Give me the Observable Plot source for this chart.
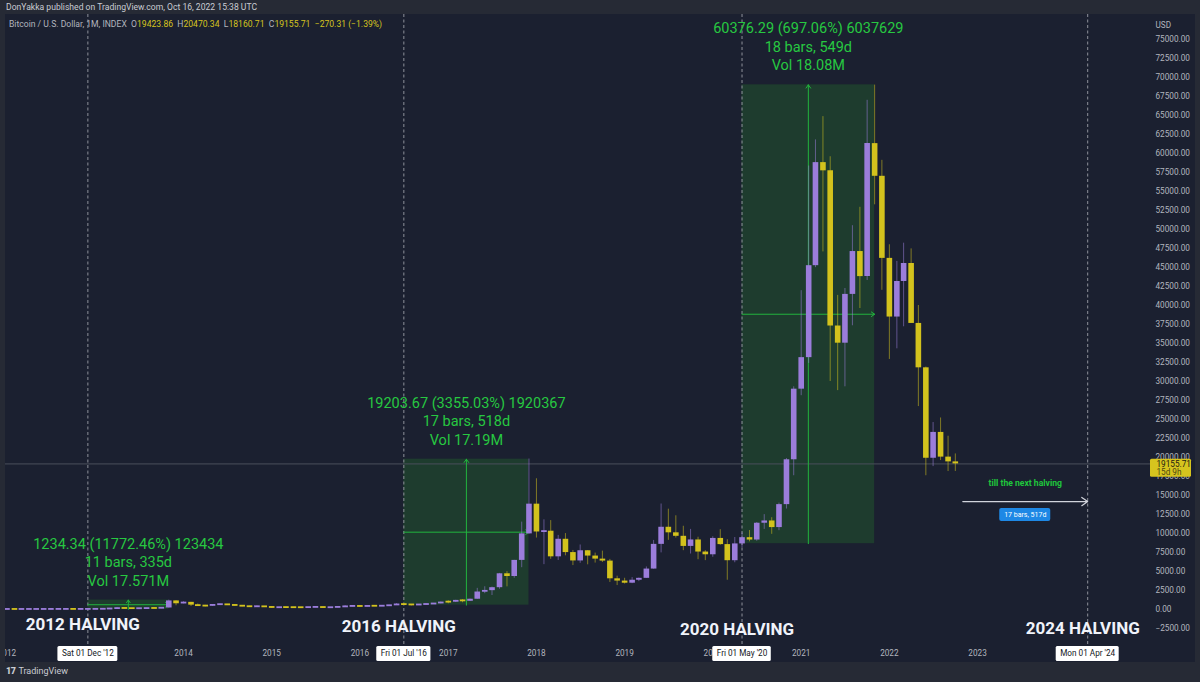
<!DOCTYPE html>
<html><head><meta charset="utf-8">
<script src="https://cdn.jsdelivr.net/npm/d3@7"></script>
<script src="https://cdn.jsdelivr.net/npm/@observablehq/plot@0.6"></script>
<style>
html,body{margin:0;padding:0;background:#262a35;width:1200px;height:682px;overflow:hidden;font-family:Roboto,"Noto Sans",sans-serif;}
#hdr{position:absolute;left:6px;top:2px;font-size:8.6px;color:#c9ccd3;white-space:nowrap;}
#panel{position:absolute;left:5px;top:14px;width:1190px;height:648px;background:#1b2030;overflow:hidden;}
#chart{position:absolute;left:0;top:0;}
#legend{position:absolute;left:4px;top:5px;font-size:8.6px;color:#b2b5be;white-space:nowrap;}
#legend .v{color:#d6c41e;}
#footer{position:absolute;left:6px;top:666px;font-size:9px;color:#c9ccd3;white-space:nowrap;}
#footer b{font-weight:900;letter-spacing:-0.5px;margin-right:3px;}
</style></head>
<body>
<div id="hdr">DonYakka published on TradingView.com, Oct 16, 2022 15:38 UTC</div>
<div id="panel"><div id="chart"></div>
<div id="legend">Bitcoin / U.S. Dollar, 1M, INDEX &nbsp;O<span class="v">19423.86</span> &nbsp;H<span class="v">20470.34</span> &nbsp;L<span class="v">18160.71</span> &nbsp;C<span class="v">19155.71</span> &nbsp;<span class="v">−270.31 (−1.39%)</span></div>
</div>
<div id="footer"><b>17</b>TradingView</div>
<script>
// ---------- DATA ----------
const firstMonth = "2012-01-01"; // monthly candles, one per month from here
const open = [
 5.3,5.5,4.9,4.9,5.0,5.2,6.7,9.3,10.2,12.4,11.2,12.6,
 13.5,20.4,33.4,93,139,129,97,106,135,133,198,1130,
 754,940,570,450,445,630,640,585,480,387,338,378,
 320,217,254,244,236,230,263,284,230,236,314,377,
 430,368,437,416,448,531,673,624,575,609,701,742,
 968,965,1190,1080,1350,2300,2480,2870,4700,4340,6460,9950,
 13860,10200,10300,6930,9240,7490,6390,7730,7030,6630,6370,4040,
 3740,3460,3850,4100,5320,8570,10820,10090,9630,8300,9150,7560,
 7200,9350,8540,6420,8630,9450,9140,11350,11650,10780,13800,19700,
 28990,33140,45240,58800,57720,37300,35040,41460,47100,43800,61300,57000,
 46200,38480,43160,45530,37640,31800,19900,23300,20050,19423.86];
const high = [
 7.4,6.3,5.3,5.4,5.2,6.7,9.3,16.4,12.9,12.6,12.6,13.7,
 20.8,33.4,95,266,140,129,111,139,145,214,1240,1150,
 1020,940,720,550,640,680,660,600,490,420,460,390,
 320,270,299,262,250,268,318,285,247,333,500,467,
 464,445,440,467,548,780,680,627,615,725,755,980,
 1150,1210,1290,1370,2780,2990,2950,4750,4980,6470,11500,19800,
 17200,11800,11700,9750,9990,7770,8490,7750,7420,7680,6590,4380,
 4110,4200,4140,5600,9090,13880,13200,12330,10950,10540,9510,7740,
 9570,10500,9180,9470,10070,10390,11440,12480,12080,14000,19860,29300,
 41950,58350,61790,64850,59570,41330,42240,50500,52920,67000,69000,59100,
 47990,45800,48200,47450,40000,31900,24600,25200,22800,20470.34];
const low = [
 5.3,4.3,4.7,4.9,4.9,5.2,6.5,7.0,10.1,9.9,10.5,12.2,
 13.2,19.6,33.2,50,79,87,65,101,116,106,195,490,
 740,400,440,340,420,550,560,450,360,275,320,310,
 152,210,235,214,228,218,255,198,225,235,300,350,
 350,366,400,415,436,530,605,465,570,605,686,740,
 750,915,890,1060,1340,2080,1840,2670,2980,4110,5500,9900,
 9400,5900,6600,6450,7060,5780,6080,5880,6110,6180,3560,3150,
 3350,3400,3670,4090,5300,7450,9100,9400,7740,7300,6550,6430,
 6870,8450,3850,6150,8120,8900,8980,10540,9890,10370,13220,17600,
 28130,32380,44980,47050,30000,28800,29300,37330,39600,43290,53250,42000,
 32900,34300,37200,37700,26700,17600,18800,19600,18150,18160.71];
const close = [
 5.5,4.9,4.9,5.0,5.2,6.7,9.3,10.2,12.4,11.2,12.6,13.5,
 20.4,33.4,93,139,129,97,106,135,133,198,1130,754,
 940,570,450,445,630,640,585,480,387,338,378,320,
 217,254,244,236,230,263,284,230,236,314,377,430,
 368,437,416,448,531,673,624,575,609,701,742,968,
 965,1190,1080,1350,2300,2480,2870,4700,4340,6460,9950,13860,
 10200,10300,6930,9240,7490,6390,7730,7030,6630,6370,4040,3740,
 3460,3850,4100,5320,8570,10820,10090,9630,8300,9150,7560,7200,
 9350,8540,6420,8630,9450,9140,11350,11650,10780,13800,19700,28990,
 33140,45240,58800,57720,37300,35040,41460,47100,43800,61300,57000,46200,
 38480,43160,45530,37640,31800,19900,23300,20050,19423.86,19155.71];
const lastPrice = 19155.71;
const lastPriceLabel = ["19155.71","15d 9h"];

const halvingDates = ["2012-12-01","2016-07-01","2020-05-01","2024-04-01"];
const halvingDateLabels = ["Sat 01 Dec '12","Fri 01 Jul '16","Fri 01 May '20","Mon 01 Apr '24"];
const halvingTitles = ["2012 HALVING","2016 HALVING","2020 HALVING","2024 HALVING"];

const measureStart = ["2012-12-01","2016-07-01","2020-05-01"];
const measureEnd = ["2013-11-01","2017-12-01","2021-11-01"];
const measureLow = [10.485, 572.38, 8661.6];
const measureHigh = [1244.83, 19776.05, 69037.9];
const measureLine1 = ["1234.34 (11772.46%) 123434","19203.67 (3355.03%) 1920367","60376.29 (697.06%) 6037629"];
const measureLine2 = ["11 bars, 335d","17 bars, 518d","18 bars, 549d"];
const measureLine3 = ["Vol 17.571M","Vol 17.19M","Vol 18.08M"];

const nextStart = "2022-11-01", nextEnd = "2024-04-01";
const nextTitle = "till the next halving", nextLabel = "17 bars, 517d";

// year labels visible on the time axis (2013 and 2024 sit under the date boxes)
const yearTicks = [2012,2014,2015,2016,2017,2018,2019,2020,2021,2022,2023];
const priceTicks = d3.range(-2500, 75001, 2500);

// ---------- BUILD ----------
const d0 = new Date(firstMonth);
const candles = open.map((o,i)=>({date: d3.utcMonth.offset(d0,i), o, h: high[i], l: low[i], c: close[i]}));
const halvings = halvingDates.map((d,i)=>({date:new Date(d), label:halvingDateLabels[i], title:halvingTitles[i]}));
const measures = measureStart.map((s,i)=>{
  const a = new Date(s), b = new Date(measureEnd[i]);
  return {a, b, mid: new Date((+a + +b)/2), lo: measureLow[i], hi: measureHigh[i],
          midY: (measureLow[i]+measureHigh[i])/2, t1: measureLine1[i], t2: measureLine2[i], t3: measureLine3[i]};
});
const nxA = new Date(nextStart), nxB = new Date(nextEnd), nxMid = new Date((+nxA + +nxB)/2);

const PURPLE = "#9b7ddb", YELLOW = "#d3c21d", GREEN = "#27c841", GLINE = "#22b43e";
const col = d => d.c >= d.o ? PURPLE : YELLOW;
const minBody = 240;
const bLo = d => { const g = Math.abs(d.c-d.o); return Math.min(d.o,d.c) - (g<minBody ? (minBody-g)/2 : 0); };
const bHi = d => { const g = Math.abs(d.c-d.o); return Math.max(d.o,d.c) + (g<minBody ? (minBody-g)/2 : 0); };

const ctx = document.createElement("canvas").getContext("2d");
ctx.font = "8.2px Roboto";
const tw = s => ctx.measureText(s).width;

const FONT = "Roboto, 'Noto Sans', sans-serif";
const titleDy = [-15, -17, -20, -19];

const marks = [
  Plot.rect(measures, {x1:"a", x2:"b", y1:"lo", y2:"hi", fill:"#1e3c2e"}),
  Plot.ruleX(halvings, {x:"date", stroke:"#8e919a", strokeDasharray:"3,2.5", strokeWidth:1, insetBottom:-17}),
  Plot.ruleY([lastPrice], {stroke:"#4a4f5c", strokeWidth:1}),
  Plot.arrow(measures, {x1:"a", x2:"b", y1:"midY", y2:"midY", stroke:GLINE, strokeWidth:1, headLength:6, headAngle:70}),
  Plot.arrow(measures, {x1:"mid", x2:"mid", y1:"lo", y2:"hi", stroke:GLINE, strokeWidth:1, headLength:6, headAngle:70}),
  Plot.ruleX(candles, {x:"date", y1:"l", y2:"h", stroke:col, strokeOpacity:0.55, strokeWidth:1}),
  Plot.ruleX(candles, {x:"date", y1:bLo, y2:bHi, stroke:col, strokeWidth:5.6}),
  Plot.text(measures, {x:"mid", y:"hi", text:"t1", dy:-56, fill:GREEN, fontSize:14.5}),
  Plot.text(measures, {x:"mid", y:"hi", text:"t2", dy:-37.5, fill:GREEN, fontSize:14.5}),
  Plot.text(measures, {x:"mid", y:"hi", text:"t3", dy:-19, fill:GREEN, fontSize:14.5}),
  ...halvings.map((h,i)=>Plot.text([h], {x:"date", y:0, text:"title", dx:-5, dy:-titleDy[i], fill:"#f0f3fa", fontSize:17, fontWeight:"bold"})),
  Plot.arrow([0], {x1:()=>nxA, x2:()=>nxB, y1:()=>14200, y2:()=>14200, stroke:"#d1d4dc", strokeWidth:1.2, headLength:9, headAngle:70}),
  Plot.text([nextTitle], {x:()=>nxMid, y:()=>16600, text:d=>d, fill:"#1fc63c", fontSize:8.6, fontWeight:"bold"}),
  Plot.rect([nextLabel], {x1:()=>nxMid, x2:()=>nxMid, y1:()=>12450, y2:()=>12450, insetLeft:-25.5, insetRight:-25.5, insetTop:-6.5, insetBottom:-6.5, fill:"#1e88e5", rx:2}),
  Plot.text([nextLabel], {x:()=>nxMid, y:()=>12450, text:d=>d, fill:"#ffffff", fontSize:7}),
  Plot.text(yearTicks, {x:d=>new Date(Date.UTC(d,0,1)), text:d=>String(d), frameAnchor:"bottom", dy:10, fill:"#b2b5be", fontSize:8.2}),
  ...halvings.map(h=>{ const hw = tw(h.label)/2 + 4; return Plot.rect([h], {x1:"date", x2:"date", insetLeft:-hw, insetRight:-hw, insetTop:632, insetBottom:-16, fill:"#ffffff", rx:1.5}); }),
  Plot.text(halvings, {x:"date", text:"label", frameAnchor:"bottom", dy:10, fill:"#131722", fontSize:8.2}),
  Plot.axisY(priceTicks, {anchor:"right", tickSize:0, tickPadding:5, label:null, fill:"#b2b5be", fontSize:8.2,
     tickFormat:d => d<0 ? "−"+Math.abs(d).toFixed(2) : d.toFixed(2)}),
  Plot.text(["USD"], {frameAnchor:"top-right", text:d=>d, dx:5, dy:8, textAnchor:"start", fill:"#b2b5be", fontSize:8.2}),
  Plot.rect([lastPrice], {y1:d=>d, y2:d=>d, insetLeft:1145, insetRight:-41, insetTop:-4.6, insetBottom:-13.4, fill:"#d6c41e", rx:1.5}),
  Plot.text([lastPrice], {y:d=>d, frameAnchor:"right", dx:6, dy:0.5, textAnchor:"start", text:()=>lastPriceLabel[0], fill:"#1a1a12", fontSize:8.2}),
  Plot.text([lastPrice], {y:d=>d, frameAnchor:"right", dx:6, dy:8.8, textAnchor:"start", text:()=>lastPriceLabel[1], fill:"#4d4712", fontSize:8.2})
];

const chart = Plot.plot({
  width:1190, height:648, marginLeft:0, marginRight:45, marginTop:0, marginBottom:17,
  style:{background:"transparent", fontFamily:FONT, overflow:"hidden"},
  x:{type:"utc", domain:[new Date(Date.UTC(2011,11,26)), new Date(Date.UTC(2024,11,17))], axis:null},
  y:{domain:[-4737, 78289], axis:null},
  marks
});
document.getElementById("chart").appendChild(chart);
</script>
</body></html>
